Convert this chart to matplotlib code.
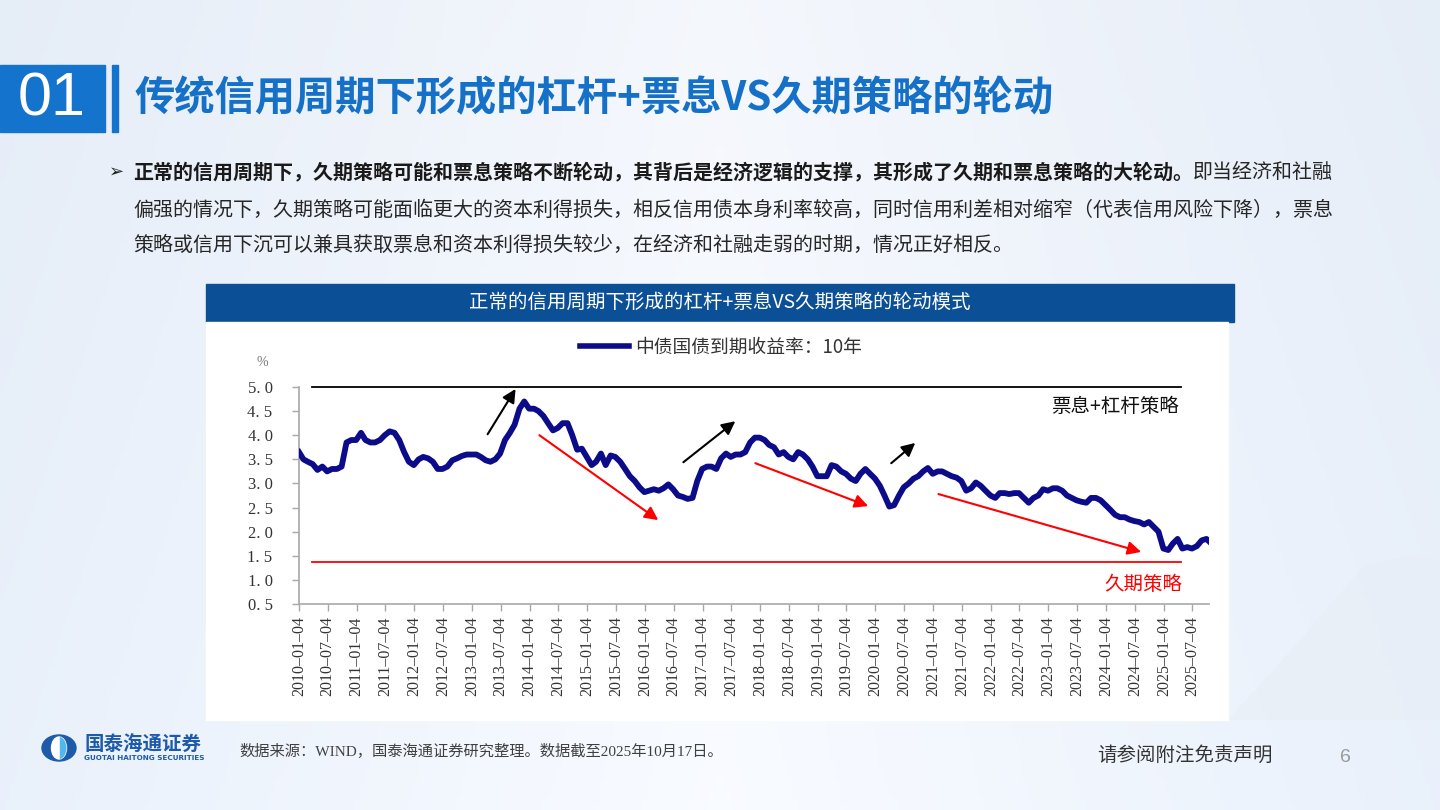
import numpy as np
import pandas as pd
import matplotlib
matplotlib.use("Agg")
import matplotlib.pyplot as plt
from matplotlib.patches import Rectangle, Ellipse, Polygon
from matplotlib.lines import Line2D

W, H = 1440, 810
CJK = ['Noto Sans CJK SC', 'DejaVu Sans']
SERIF_MIX = ['Liberation Serif', 'Noto Sans CJK SC']
plt.rcParams['font.family'] = CJK

# ---- 中债国债到期收益率:10年 (%), value at the start of each month
y2010 = [3.65, 3.50, 3.45, 3.40, 3.28, 3.35, 3.25, 3.30, 3.30, 3.35, 3.85, 3.90]
y2011 = [3.90, 4.05, 3.90, 3.85, 3.85, 3.90, 4.00, 4.08, 4.05, 3.90, 3.65, 3.45]
y2012 = [3.38, 3.50, 3.55, 3.52, 3.45, 3.30, 3.30, 3.35, 3.48, 3.52, 3.57, 3.60]
y2013 = [3.60, 3.60, 3.55, 3.48, 3.45, 3.50, 3.62, 3.90, 4.05, 4.22, 4.55, 4.70]
y2014 = [4.55, 4.55, 4.50, 4.40, 4.25, 4.10, 4.15, 4.25, 4.25, 4.00, 3.70, 3.72]
y2015 = [3.55, 3.38, 3.45, 3.62, 3.38, 3.58, 3.55, 3.45, 3.30, 3.15, 3.05, 2.92]
y2016 = [2.82, 2.85, 2.88, 2.85, 2.90, 2.98, 2.88, 2.75, 2.72, 2.68, 2.70, 3.05]
y2017 = [3.30, 3.35, 3.35, 3.30, 3.52, 3.62, 3.55, 3.60, 3.60, 3.65, 3.85, 3.95]
y2018 = [3.95, 3.90, 3.80, 3.75, 3.60, 3.65, 3.55, 3.50, 3.65, 3.60, 3.50, 3.35]
y2019 = [3.15, 3.15, 3.15, 3.38, 3.35, 3.25, 3.20, 3.10, 3.05, 3.20, 3.30, 3.20]
y2020 = [3.10, 2.95, 2.75, 2.52, 2.55, 2.75, 2.92, 3.00, 3.10, 3.15, 3.25, 3.32]
y2021 = [3.20, 3.25, 3.25, 3.20, 3.15, 3.12, 3.05, 2.85, 2.90, 3.02, 2.95, 2.85]
y2022 = [2.75, 2.70, 2.80, 2.80, 2.78, 2.80, 2.80, 2.70, 2.60, 2.70, 2.75, 2.88]
y2023 = [2.85, 2.90, 2.90, 2.85, 2.75, 2.70, 2.65, 2.62, 2.60, 2.70, 2.70, 2.65]
y2024 = [2.55, 2.45, 2.35, 2.30, 2.30, 2.25, 2.22, 2.20, 2.15, 2.20, 2.10, 2.00]
y2025 = [1.65, 1.62, 1.75, 1.85, 1.65, 1.68, 1.65, 1.70, 1.82, 1.85]
last_date, last_value = "2025-10-17", 1.80

yields = (y2010 + y2011 + y2012 + y2013 + y2014 + y2015 + y2016 + y2017
          + y2018 + y2019 + y2020 + y2021 + y2022 + y2023 + y2024 + y2025)
dates = list(pd.date_range("2010-01-01", periods=len(yields), freq="MS"))
dates[0] = pd.Timestamp("2010-01-04")
dates.append(pd.Timestamp(last_date))
yields = yields + [last_value]

tick_labels = [f"{y}-{m}-04" for y in range(2010, 2026) for m in ("01", "07")]
y_ticks = [0.5, 1.0, 1.5, 2.0, 2.5, 3.0, 3.5, 4.0, 4.5, 5.0]

# guide levels and strategy arrows (start date, start %, end date, end %)
carry_level, duration_level = 5.0, 1.37
guide_span = ("2010-03-25", "2025-04-22")
up_arrows = [("2013-04-13", 4.02, "2013-10-07", 4.96),
             ("2016-09-04", 3.44, "2017-07-30", 4.29),
             ("2020-04-13", 3.42, "2020-09-12", 3.84)]
down_arrows = [("2014-03-07", 4.00, "2016-03-29", 2.24),
               ("2017-12-04", 3.42, "2019-11-19", 2.53),
               ("2021-02-06", 2.78, "2024-08-13", 1.58)]

title = "传统信用周期下形成的杠杆+票息VS久期策略的轮动"
bullet_bold = "正常的信用周期下，久期策略可能和票息策略不断轮动，其背后是经济逻辑的支撑，其形成了久期和票息策略的大轮动。"
bullet_rest = "即当经济和社融"
bullet_line2 = "偏强的情况下，久期策略可能面临更大的资本利得损失，相反信用债本身利率较高，同时信用利差相对缩窄（代表信用风险下降），票息"
bullet_line3 = "策略或信用下沉可以兼具获取票息和资本利得损失较少，在经济和社融走弱的时期，情况正好相反。"
chart_title = "正常的信用周期下形成的杠杆+票息VS久期策略的轮动模式"
series_name = "中债国债到期收益率：10年"
source = "数据来源：WIND，国泰海通证券研究整理。数据截至2025年10月17日。"

fig = plt.figure(figsize=(W / 100, H / 100), dpi=100)

# ---- page layer in pixel coordinates
pg = fig.add_axes([0, 0, 1, 1], zorder=0)
pg.set_xlim(0, W)
pg.set_ylim(H, 0)
pg.axis("off")

gx = np.linspace(0, 1, 300)
gy = np.linspace(0, 1, 170)
X, Y = np.meshgrid(gx, gy)
c_left = np.array([0.90, 0.93, 0.97])
c_mid = np.array([0.96, 0.97, 0.99])
wgt = np.clip(np.abs(X - 0.5) * 2, 0, 1)[..., None]
img = c_mid * (1 - wgt) + c_left * wgt
img = img + (Y[..., None] * 0.015)
pg.imshow(np.clip(img, 0, 1), extent=(0, W, H, 0), aspect="auto", zorder=0)
pg.add_patch(Polygon([(1228, 720), (1300, 640), (1365, 565), (1410, 555), (1440, 560),
                      (1440, 720)], closed=True, color="#e8eef5", alpha=0.5, lw=0, zorder=1))

# section number + title
pg.add_patch(Rectangle((0, 65), 105, 67, color="#1473cc", zorder=2))
pg.add_patch(Rectangle((112, 65), 6, 67, color="#1473cc", zorder=2))
pg.text(52, 100, "01", color="white", fontsize=44, family="Liberation Sans",
        ha="center", va="center", zorder=3)
pg.text(134, 99, title, color="#1570c8", fontsize=29, fontweight="bold",
        ha="left", va="center", zorder=3)

# bullet paragraph
pg.text(109, 172, "➢", fontsize=13, family=['DejaVu Sans'], color="#222222",
        ha="left", va="center", zorder=3)
tb = pg.text(133, 172, bullet_bold, fontsize=14.4, fontweight="bold", color="#1a1a1a",
             ha="left", va="center", zorder=3)
r = fig.canvas.get_renderer()
bb = tb.get_window_extent(renderer=r)
pg.text(bb.x1, 172, bullet_rest, fontsize=14.4, color="#262626",
        ha="left", va="center", zorder=3)
pg.text(133, 210, bullet_line2, fontsize=14.4, color="#262626", ha="left", va="center", zorder=3)
pg.text(133, 245, bullet_line3, fontsize=14.4, color="#262626", ha="left", va="center", zorder=3)

# chart header and panel
pg.add_patch(Rectangle((206, 284), 1028, 38, color="#0b4f96", zorder=2))
pg.add_patch(Rectangle((206, 322), 1022, 398, color="white", zorder=2))
pg.text(720, 302, chart_title, color="white", fontsize=14, ha="center", va="center", zorder=3)
pg.text(262, 362, "%", color="#777777", fontsize=10, family="Liberation Serif",
        ha="center", va="center", zorder=3)

# footer
pg.add_patch(Ellipse((59, 748), 34, 26, color="#1d5aa8", zorder=2))
pg.add_patch(Ellipse((59, 748), 15, 22, color="white", zorder=3))
pg.add_patch(Rectangle((60, 736), 8, 24, color="#4fb8ec", zorder=4,
                       clip_path=pg.patches[-1], clip_on=True))
pg.text(84, 745, "国泰海通证券", color="#1d5aa8", fontsize=14, fontweight="bold",
        ha="left", va="center", zorder=3)
pg.text(84, 758, "GUOTAI HAITONG SECURITIES", color="#1d5aa8", fontsize=5.2,
        fontweight="bold", family="DejaVu Sans", ha="left", va="center", zorder=3)
pg.text(239, 751, source, color="#404040", fontsize=11, family=SERIF_MIX,
        ha="left", va="center", zorder=3)
pg.text(1097, 755, "请参阅附注免责声明", color="#333333", fontsize=14, ha="left", va="center", zorder=3)
pg.text(1345, 758, "6", color="#9a9a9a", fontsize=14, family="Liberation Sans",
        ha="center", va="center", zorder=3)

# ---- chart axes
x0, x1, ytop, ybot = 299, 1209, 387, 604
ax = fig.add_axes([x0 / W, 1 - ybot / H, (x1 - x0) / W, (ybot - ytop) / H], zorder=1)
ax.set_facecolor("none")
ax.plot(dates, yields, color="#0c0c8a", lw=4.2, solid_joinstyle="round", zorder=3)
ax.set_xlim(pd.Timestamp("2010-01-04"), pd.Timestamp(last_date))
ax.set_ylim(0.5, 5.0)

gs = [pd.Timestamp(d) for d in guide_span]
ax.plot(gs, [carry_level] * 2, color="black", lw=1.3, clip_on=False, zorder=2)
ax.plot(gs, [duration_level] * 2, color="#ff0000", lw=1.3, clip_on=False, zorder=2)

for d0, v0, d1, v1 in up_arrows:
    ax.annotate("", xy=(pd.Timestamp(d1), v1), xytext=(pd.Timestamp(d0), v0),
                annotation_clip=False,
                arrowprops=dict(arrowstyle="-|>", color="black", lw=1.5,
                                mutation_scale=20, shrinkA=0, shrinkB=0))
for d0, v0, d1, v1 in down_arrows:
    ax.annotate("", xy=(pd.Timestamp(d1), v1), xytext=(pd.Timestamp(d0), v0),
                annotation_clip=False,
                arrowprops=dict(arrowstyle="-|>", color="#ff0000", lw=1.5,
                                mutation_scale=20, shrinkA=0, shrinkB=0))

ax.text(pd.Timestamp("2025-04-10"), 4.59, "票息+杠杆策略", color="#111111",
        fontsize=14, ha="right", va="center")
ax.text(pd.Timestamp("2025-05-01"), 0.91, "久期策略", color="#ff0000",
        fontsize=14, ha="right", va="center", clip_on=False)

for s in ("top", "right"):
    ax.spines[s].set_visible(False)
for s in ("left", "bottom"):
    ax.spines[s].set_color("#a8a8a8")
    ax.spines[s].set_linewidth(1.2)

ax.set_yticks(y_ticks)
ax.set_yticklabels([f"{v:.1f}".replace(".", ". ") for v in y_ticks],
                   family="Liberation Serif", fontsize=12, color="#333333")
ax.set_xticks([pd.Timestamp(t) for t in tick_labels])
ax.set_xticklabels([t.replace("-", "–") for t in tick_labels], rotation=90,
                   family="Liberation Serif", fontsize=11.5, color="#333333")
ax.tick_params(axis="both", direction="out", length=5, width=1, color="#a8a8a8")
ax.tick_params(axis="y", pad=14)
ax.tick_params(axis="x", pad=4)

leg = fig.legend([Line2D([], [], color="#0c0c8a", lw=4)], [series_name],
                 loc="center", bbox_to_anchor=(721 / W, 1 - 347 / H), frameon=False,
                 handlelength=2.6, handletextpad=0.3, fontsize=13.5)
for t in leg.get_texts():
    t.set_color("#333333")

fig.savefig("out.png", dpi=100)
